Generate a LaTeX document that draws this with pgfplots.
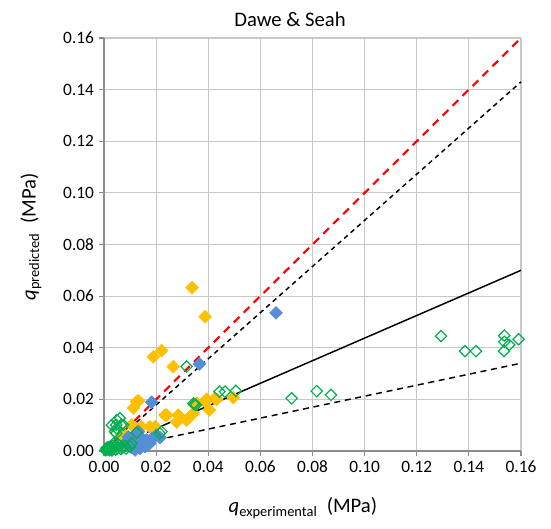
\documentclass[border=0pt]{standalone}
\usepackage{pgfplots}
\pgfplotsset{compat=1.18}
\usepackage{fontspec}
\setmainfont{Carlito}
\definecolor{ygold}{HTML}{FFC000}
\definecolor{mblue}{HTML}{558ED5}
\definecolor{mgreen}{HTML}{00B050}
\definecolor{gridgray}{HTML}{C8C8C8}
\definecolor{axgray}{HTML}{8C8C8C}
\begin{document}
\begin{tikzpicture}
\path[use as bounding box] (-78pt,-58.5pt) rectangle (335.25pt,338.25pt);
\begin{axis}[
  scale only axis, width=312.75pt, height=309.75pt,
  xmin=0, xmax=0.16, ymin=0, ymax=0.16,
  xtick={0,0.02,...,0.16}, ytick={0,0.02,...,0.16},
  grid=major, grid style={gridgray, line width=0.8pt},
  axis x line*=bottom, axis y line*=left,
  axis line style={axgray, line width=1pt},
  tick align=outside, major tick length=4pt,
  tick style={axgray, line width=0.8pt},
  /pgf/number format/assume math mode=true,
  /pgf/number format/fixed, /pgf/number format/fixed zerofill, /pgf/number format/precision=2,
  scaled ticks=false,
  tick label style={font=\fontsize{13pt}{15pt}\selectfont, text=black},
  clip=false,
]
% reference lines
\addplot[red, line width=1.6pt, dash pattern=on 6pt off 4.5pt] coordinates {(0.004,0.004) (0.16,0.16)};
\addplot[black, line width=1.1pt, dash pattern=on 3.5pt off 3pt] coordinates {(0.01,0.0089) (0.16,0.143)};
\addplot[black, line width=1.1pt] coordinates {(0.0165,0.0072) (0.16,0.070)};
\addplot[black, line width=1.1pt, dash pattern=on 4.5pt off 3.5pt] coordinates {(0.0203,0.0043) (0.16,0.034)};
% yellow
\addplot[only marks, mark=square*, mark size=3.4pt, mark options={rotate=45, fill=ygold, draw=ygold}] coordinates {
(0.0338,0.0633) (0.0388,0.0520) (0.0221,0.0389) (0.0189,0.0365) (0.0266,0.0327)
(0.0132,0.0194) (0.0113,0.0167) (0.0394,0.0201) (0.0432,0.0200) (0.0496,0.0207)
(0.0404,0.0159) (0.0241,0.0139) (0.0285,0.0139) (0.0279,0.0112) (0.0317,0.0120)
(0.0330,0.0133) (0.0176,0.0094) (0.0106,0.0101) (0.0074,0.0068) (0.0356,0.0185)
(0.0388,0.0191) (0.0343,0.0146) (0.0143,0.0094) (0.0068,0.0062) (0.0234,0.0139)
(0.0196,0.0094) (0.0349,0.0178) (0.0125,0.0191) (0.0426,0.0204)
};
% blue
\addplot[only marks, mark=square*, mark size=3.4pt, mark options={rotate=45, fill=mblue, draw=mblue}] coordinates {
(0.0660,0.0535) (0.0366,0.0337) (0.0183,0.0189) (0.0132,0.0075) (0.0093,0.0055)
(0.0100,0.0030) (0.0164,0.0043) (0.0202,0.0062) (0.0138,0.0010) (0.0119,0.0004)
(0.0157,0.0017) (0.0176,0.0030) (0.0120,0.0060) (0.0145,0.0050) (0.0110,0.0045)
(0.0185,0.0050) (0.0128,0.0020) (0.0150,0.0035) (0.0215,0.0052) (0.0080,0.0030)
(0.0105,0.0015) (0.0165,0.0025)
};
% green
\addplot[only marks, mark=square, mark size=3.0pt, mark options={rotate=45, draw=mgreen, line width=0.9pt}] coordinates {
(0.0720,0.0204) (0.0816,0.0232) (0.0871,0.0217) (0.1293,0.0445) (0.1385,0.0387)
(0.1427,0.0387) (0.1536,0.0447) (0.1536,0.0423) (0.1535,0.0387) (0.1555,0.0411)
(0.1591,0.0433) (0.0317,0.0327) (0.0443,0.0230) (0.0464,0.0230) (0.0506,0.0233)
(0.0343,0.0184) (0.0353,0.0178) (0.0348,0.0181) (0.0221,0.0075) (0.0214,0.0068)
(0.0049,0.0120) (0.0030,0.0100) (0.0049,0.0088) (0.0061,0.0127) (0.0042,0.0075)
(0.0074,0.0101) (0.0125,0.0071) (0.0100,0.0017) (0.0047,0.0101) (0.0066,0.0101)
(0.0047,0.0068) (0.0105,0.0030)
(0.0010,0.0005) (0.0020,0.0010) (0.0030,0.0008) (0.0040,0.0015) (0.0050,0.0010)
(0.0060,0.0020) (0.0020,0.0003) (0.0035,0.0020) (0.0045,0.0005) (0.0070,0.0012)
(0.0080,0.0020) (0.0015,0.0015) (0.0025,0.0018) (0.0055,0.0025) (0.0065,0.0008)
(0.0010,0.0012) (0.0030,0.0002) (0.0085,0.0010) (0.0005,0.0003) (0.0038,0.0030)
};
\node[font=\fontsize{15.5pt}{18pt}\selectfont] at (rel axis cs:0.446,1.046) {Dawe \& Seah};
\node[font=\fontsize{15.5pt}{18pt}\selectfont] at (rel axis cs:0.477,-0.138) {\textit{q}\textsubscript{experimental}\hspace{0.45em}(MPa)};
\node[font=\fontsize{15.5pt}{18pt}\selectfont, rotate=90] at (rel axis cs:-0.175,0.518) {\textit{q}\textsubscript{predicted}\hspace{0.45em}(MPa)};
\end{axis}
\end{tikzpicture}
\end{document}
